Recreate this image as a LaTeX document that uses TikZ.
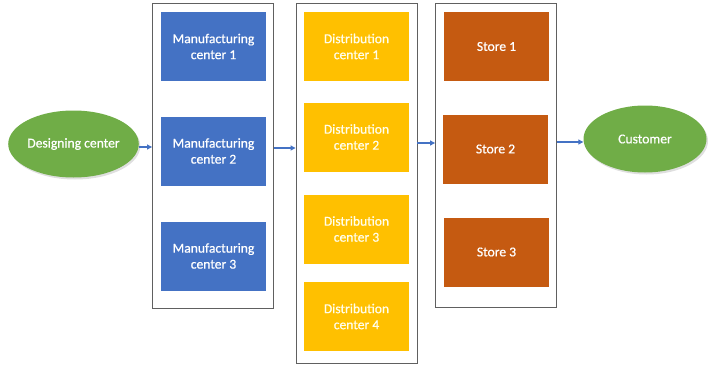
\documentclass[tikz,border=0pt]{standalone}
\usepackage{fontspec}
\setmainfont{Carlito}
\newfontfamily\boxfont[FakeBold=0.6]{Carlito}
\usetikzlibrary{arrows.meta,shadows,shapes.geometric}
\definecolor{mfgblue}{HTML}{4472C4}
\definecolor{distyellow}{HTML}{FFC000}
\definecolor{storeorange}{HTML}{C55A11}
\definecolor{endgreen}{HTML}{70AD47}
\definecolor{frame}{HTML}{606060}
\tikzset{
  x=1pt, y=-1pt,
  label text/.style={font=\boxfont\fontsize{13.6}{16}\selectfont, text=white, align=center},
  stage/.style={label text, rectangle, minimum width=105pt, minimum height=69pt, inner sep=0pt},
  mfg/.style={stage, fill=mfgblue},
  dist/.style={stage, fill=distyellow, text=white!92!yellow},
  store/.style={stage, fill=storeorange},
  endpoint/.style={label text, ellipse, fill=endgreen, minimum width=123pt, minimum height=67pt, inner sep=0pt,
    drop shadow={opacity=0.25, shadow xshift=1.5pt, shadow yshift=-2pt}},
  group/.style={draw=frame, line width=0.9pt, rectangle, inner sep=0pt},
  flow/.style={draw=mfgblue, line width=1.1pt, -{Triangle[length=5pt,width=5pt]}}
}
\begin{document}
\begin{tikzpicture}
\useasboundingbox (0,0) rectangle (715,367);
% stage groups
\node[group, minimum width=121pt, minimum height=305pt] (g1) at (213,155.5) {};
\node[group, minimum width=121pt, minimum height=360pt] (g2) at (356.5,183) {};
\node[group, minimum width=121pt, minimum height=304pt] (g3) at (496,155) {};
% end points
\node[endpoint] (design) at (73.5,144) {Designing center};
\node[endpoint] (customer) at (645,139) {Customer};
% manufacturing
\node[mfg] (m1) at (213.5,46.5) {Manufacturing\\center 1};
\node[mfg] (m2) at (213.5,151) {Manufacturing\\center 2};
\node[mfg] (m3) at (213.5,256) {Manufacturing\\center 3};
% distribution
\node[dist] (d1) at (356.5,46.5) {Distribution\\center 1};
\node[dist] (d2) at (356.5,137) {Distribution\\center 2};
\node[dist] (d3) at (356.5,229) {Distribution\\center 3};
\node[dist] (d4) at (356.5,316.5) {Distribution\\center 4};
% stores
\node[store] (s1) at (496.5,46.5) {Store 1};
\node[store] (s2) at (495.5,149) {Store 2};
\node[store] (s3) at (496.5,252) {Store 3};
% flows
\coordinate (f1) at (0,147);
\coordinate (f2) at (0,148);
\coordinate (f3) at (0,143);
\coordinate (f4) at (0,142);
\draw[flow] (design.east |- f1) -- (g1.west |- f1);
\draw[flow] (g1.east |- f2) -- (g2.west |- f2);
\draw[flow] (g2.east |- f3) -- (g3.west |- f3);
\draw[flow] (g3.east |- f4) -- (customer.west |- f4);
\end{tikzpicture}
\end{document}
